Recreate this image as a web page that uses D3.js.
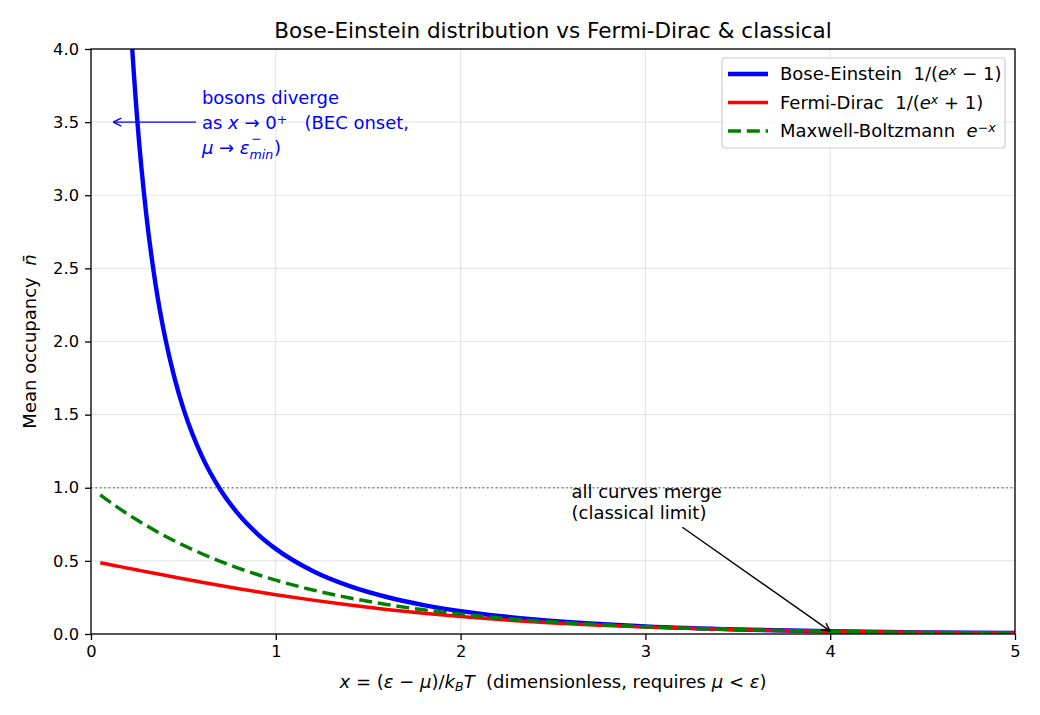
<!DOCTYPE html>
<html>
<head>
<meta charset="utf-8">
<script src="https://cdn.jsdelivr.net/npm/d3@7"></script>
<style>
  body { margin: 0; background: #fff; }
  svg text { font-family: "DejaVu Sans", sans-serif; }
</style>
</head>
<body>
<div id="chart"></div>
<script>
const xs = [0.05, 0.1, 0.15, 0.2, 0.22, 0.25, 0.3, 0.35, 0.4, 0.45, 0.5, 0.55, 0.6, 0.7, 0.8, 0.9, 1.0,
  1.2, 1.4, 1.6, 1.8, 2.0, 2.25, 2.5, 2.75, 3.0, 3.5, 4.0, 4.5, 5.0];
const boseEinstein = [19.50, 9.508, 6.179, 4.517, 4.064, 3.521, 2.858, 2.386, 2.033, 1.760, 1.5415, 1.3638, 1.2164,
  0.9866, 0.8160, 0.6851, 0.5820, 0.4310, 0.3273, 0.2530, 0.1980, 0.1565, 0.1180, 0.0894, 0.0682, 0.0524,
  0.0311, 0.0187, 0.0112, 0.0068];
const fermiDirac = [0.4875, 0.4750, 0.4626, 0.4502, 0.4452, 0.4378, 0.4256, 0.4134, 0.4013, 0.3894, 0.3775, 0.3659, 0.3543,
  0.3318, 0.3100, 0.2891, 0.2689, 0.2315, 0.1978, 0.1680, 0.1419, 0.1192, 0.0954, 0.0759, 0.0601, 0.0474,
  0.0293, 0.0180, 0.0110, 0.0067];
const maxwellBoltzmann = [0.9512, 0.9048, 0.8607, 0.8187, 0.8025, 0.7788, 0.7408, 0.7047, 0.6703, 0.6376, 0.6065, 0.5769, 0.5488,
  0.4966, 0.4493, 0.4066, 0.3679, 0.3012, 0.2466, 0.2019, 0.1653, 0.1353, 0.1054, 0.0821, 0.0639, 0.0498,
  0.0302, 0.0183, 0.0111, 0.0067];

const xTicks = [0, 1, 2, 3, 4, 5];
const yTicks = [0, 0.5, 1.0, 1.5, 2.0, 2.5, 3.0, 3.5, 4.0];

const width = 1040, height = 715;
const margin = { top: 49, right: 25, bottom: 81, left: 91 },
    plot_width = width - margin.left - margin.right,
    plot_height = height - margin.top - margin.bottom;

const FS = 18, TICK_FS = 16.3, TITLE_FS = 21.5;

const svg = d3.select('#chart').append('svg')
    .attr('width', width).attr('height', height);

const g = svg.append('g')
    .attr('transform', 'translate(' + margin.left + ',' + margin.top + ')');

const x = d3.scaleLinear().domain([0, 5]).range([0, plot_width]);
const y = d3.scaleLinear().domain([0, 4]).range([plot_height, 0]);

// rich text helper: parts = [text, opts]
function rich(sel, parts, size) {
  parts.forEach(function(p) {
    const t = sel.append('tspan').text(p[0]);
    const o = p[1] || {};
    if (o.i) t.attr('font-style', 'italic');
    if (o.sup) t.attr('baseline-shift', '40%').attr('font-size', size * 0.7);
    if (o.sub) t.attr('baseline-shift', '-22%').attr('font-size', size * 0.7);
  });
}

// grid
g.append('g').selectAll('line').data(xTicks).enter().append('line')
  .attr('x1', d => x(d)).attr('x2', d => x(d)).attr('y1', 0).attr('y2', plot_height)
  .attr('stroke', '#b0b0b0').attr('stroke-opacity', 0.3).attr('stroke-width', 1.2);
g.append('g').selectAll('line').data(yTicks).enter().append('line')
  .attr('y1', d => y(d)).attr('y2', d => y(d)).attr('x1', 0).attr('x2', plot_width)
  .attr('stroke', '#b0b0b0').attr('stroke-opacity', 0.3).attr('stroke-width', 1.2);

// dotted reference at 1
g.append('line')
  .attr('x1', 0).attr('x2', plot_width).attr('y1', y(1)).attr('y2', y(1))
  .attr('stroke', '#808080').attr('stroke-width', 1.4).attr('stroke-dasharray', '1.6,2.8');

svg.append('clipPath').attr('id', 'clip').append('rect')
  .attr('width', plot_width).attr('height', plot_height);

const line = d3.line().x(d => x(d[0])).y(d => y(d[1])).curve(d3.curveMonotoneX);
const curves = g.append('g').attr('clip-path', 'url(#clip)');
curves.append('path').datum(xs.map((v, i) => [v, boseEinstein[i]]))
  .attr('d', line).attr('fill', 'none').attr('stroke', '#0000ff').attr('stroke-width', 4.4);
curves.append('path').datum(xs.map((v, i) => [v, fermiDirac[i]]))
  .attr('d', line).attr('fill', 'none').attr('stroke', '#ff0000').attr('stroke-width', 3.5);
curves.append('path').datum(xs.map((v, i) => [v, maxwellBoltzmann[i]]))
  .attr('d', line).attr('fill', 'none').attr('stroke', '#008000').attr('stroke-width', 3.5)
  .attr('stroke-dasharray', '13,5.8');

// axes
const xAxis = g.append('g').attr('transform', 'translate(0,' + plot_height + ')')
  .call(d3.axisBottom(x).tickValues(xTicks).tickFormat(d3.format('d')).tickSize(6).tickPadding(5).tickSizeOuter(0));
const yAxis = g.append('g')
  .call(d3.axisLeft(y).tickValues(yTicks).tickFormat(d3.format('.1f')).tickSize(6).tickPadding(6).tickSizeOuter(0));
[xAxis, yAxis].forEach(a => {
  a.selectAll('text').attr('font-size', TICK_FS).attr('fill', '#000').attr('font-family', 'DejaVu Sans');
  a.selectAll('.tick line').attr('stroke', '#000').attr('stroke-width', 1.3);
  a.select('.domain').remove();
});

g.append('rect').attr('width', plot_width).attr('height', plot_height)
  .attr('fill', 'none').attr('stroke', '#000').attr('stroke-width', 1.3);

// titles
svg.append('text').attr('x', margin.left + plot_width / 2).attr('y', 38)
  .attr('text-anchor', 'middle').attr('font-size', TITLE_FS)
  .text('Bose-Einstein distribution vs Fermi-Dirac & classical');

const xl = svg.append('text').attr('x', margin.left + plot_width / 2).attr('y', 688)
  .attr('text-anchor', 'middle').attr('font-size', FS);
rich(xl, [['x', {i: 1}], [' = ('], ['ε', {i: 1}], [' − '], ['μ', {i: 1}], [')/'], ['k', {i: 1}], ['B', {i: 1, sub: 1}],
  ['T', {i: 1}], ['\u00a0\u00a0(dimensionless, requires '], ['μ', {i: 1}], [' < '], ['ε', {i: 1}], [')']], FS);

const yl = svg.append('text').attr('transform', 'translate(36,' + (margin.top + plot_height / 2) + ') rotate(-90)')
  .attr('text-anchor', 'middle').attr('font-size', FS);
rich(yl, [['Mean occupancy\u00a0\u00a0'], ['n̄', {i: 1}]], FS);

// arrows
function arrow(x1, y1, x2, y2, color) {
  g.append('line').attr('x1', x1).attr('y1', y1).attr('x2', x2).attr('y2', y2)
    .attr('stroke', color).attr('stroke-width', 1.4);
  const a = Math.atan2(y2 - y1, x2 - x1), L = 9, w = 0.46;
  [a + Math.PI - w, a + Math.PI + w].forEach(b => {
    g.append('line').attr('x1', x2).attr('y1', y2)
      .attr('x2', x2 + L * Math.cos(b)).attr('y2', y2 + L * Math.sin(b))
      .attr('stroke', color).attr('stroke-width', 1.4);
  });
}

// annotation: bosons diverge
const ann1 = { x: 0.12, y: 3.5, tx: 0.6, ty: 3.5 };
arrow(x(ann1.tx) - 6, y(ann1.ty), x(ann1.x), y(ann1.y), '#0000ff');
const a1 = g.append('text').attr('x', x(ann1.tx)).attr('y', y(ann1.ty) - 18)
  .attr('font-size', FS).attr('fill', '#0000ff');
a1.append('tspan').attr('x', x(ann1.tx)).text('bosons diverge');
const a1b = a1.append('tspan').attr('x', x(ann1.tx)).attr('dy', 24.5);
rich(a1b, [['as '], ['x', {i: 1}], [' → 0'], ['+', {sup: 1}], ['\u00a0\u00a0\u00a0(BEC onset,']], FS);
const a1c = a1.append('tspan').attr('x', x(ann1.tx)).attr('dy', 25);
rich(a1c, [['μ', {i: 1}], [' → '], ['ε', {i: 1}]], FS);
a1.append('tspan').attr('font-style', 'italic').attr('font-size', 12.6).attr('dy', 5).text('min');
a1.append('tspan').attr('font-size', 12.6).attr('dx', -22).attr('dy', -16).text('−');
a1.append('tspan').attr('dx', 12).attr('dy', 11).text(')');

// annotation: classical limit
const ann2 = { x: 4.0, y: 0.02, tx: 2.6, ty: 0.85 };
arrow(x(3.2), y(0.73), x(ann2.x), y(ann2.y), '#000');
const a2 = g.append('text').attr('x', x(ann2.tx)).attr('y', y(ann2.ty) - 12).attr('font-size', FS);
a2.append('tspan').attr('x', x(ann2.tx)).text('all curves merge');
a2.append('tspan').attr('x', x(ann2.tx)).attr('dy', 21).text('(classical limit)');

// legend
const lg = svg.append('g').attr('transform', 'translate(722,58)');
lg.append('rect').attr('width', 283).attr('height', 90).attr('rx', 3)
  .attr('fill', '#fff').attr('fill-opacity', 0.8).attr('stroke', '#cccccc').attr('stroke-width', 1.2);
const legendItems = [
  { color: '#0000ff', w: 4.4, dash: null, label: [['Bose-Einstein\u00a0\u00a01/('], ['e', {i: 1}], ['x', {i: 1, sup: 1}], [' − 1)']] },
  { color: '#ff0000', w: 3.5, dash: null, label: [['Fermi-Dirac\u00a0\u00a01/('], ['e', {i: 1}], ['x', {i: 1, sup: 1}], [' + 1)']] },
  { color: '#008000', w: 3.5, dash: '13,5.8', label: [['Maxwell-Boltzmann\u00a0\u00a0'], ['e', {i: 1}], ['−x', {i: 1, sup: 1}]] }
];
legendItems.forEach((d, i) => {
  const yy = 16 + i * 28.5;
  lg.append('line').attr('x1', 6).attr('x2', 46).attr('y1', yy).attr('y2', yy)
    .attr('stroke', d.color).attr('stroke-width', d.w).attr('stroke-dasharray', d.dash);
  const t = lg.append('text').attr('x', 58).attr('y', yy + 6).attr('font-size', FS);
  rich(t, d.label, FS);
});
</script>
</body>
</html>
